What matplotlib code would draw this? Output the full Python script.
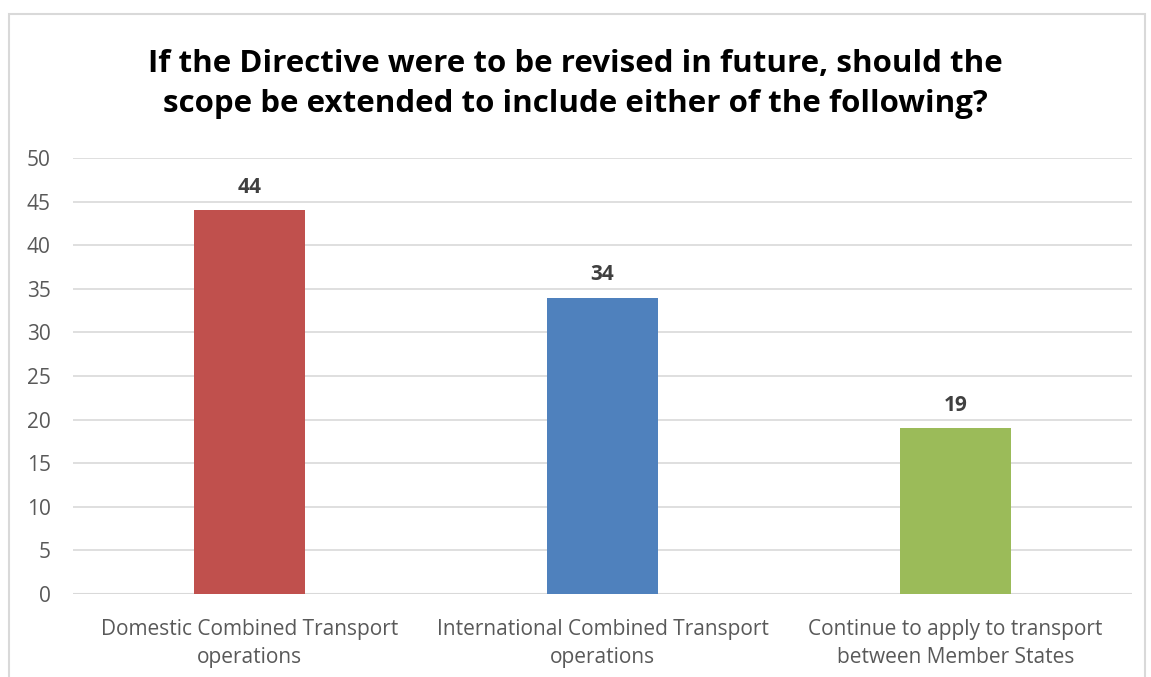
import matplotlib

matplotlib.use("Agg")

import matplotlib.pyplot as plt
from matplotlib.patches import Rectangle

categories = [
    "Domestic Combined Transport\noperations",
    "International Combined Transport\noperations",
    "Continue to apply to transport\nbetween Member States",
]
responses = [44, 34, 19]
bar_colors = ["#c0504d", "#4f81bd", "#9bbb59"]
y_ticks = list(range(0, 55, 5))

W, H = 1151, 677
plt.rcParams["font.family"] = ["Open Sans", "DejaVu Sans"]

fig = plt.figure(figsize=(W / 100, H / 100), dpi=100)
fig.patch.set_facecolor("white")

# light chart-area frame, open at the bottom edge
fig.patches.append(
    Rectangle((9 / W, -0.05), (1145 - 9) / W, 1.05 - 14 / H,
              transform=fig.transFigure, fill=False,
              edgecolor="#d9d9d9", linewidth=1.5)
)

left, right = 73 / W, 1132 / W
bottom, top = 1 - 594 / H, 1 - 158 / H
ax = fig.add_axes([left, bottom, right - left, top - bottom])

x = range(len(categories))
ax.bar(x, responses, width=0.315, color=bar_colors, zorder=3)
for xi, v in zip(x, responses):
    ax.text(xi, v + 1.4, str(v), ha="center", va="bottom",
            fontsize=15, fontweight="bold", color="#404040")

ax.set_xlim(-0.5, len(categories) - 0.5)
ax.set_ylim(0, 50)
ax.set_yticks(y_ticks)
ax.yaxis.grid(True, color="#d9d9d9", linewidth=1.2, zorder=0)
ax.tick_params(axis="y", length=0, pad=16, labelsize=15, labelcolor="#595959")
ax.tick_params(axis="x", length=0, pad=18, labelsize=15, labelcolor="#595959")
ax.set_xticks(list(x))
ax.set_xticklabels(categories, linespacing=1.45)
for spine in ax.spines.values():
    spine.set_visible(False)
ax.axhline(0, color="#d9d9d9", linewidth=1.5, zorder=2)

fig.text(0.5, 1 - 84 / H,
         "If the Directive were to be revised in future, should the\n"
         "scope be extended to include either of the following?",
         ha="center", va="center", fontsize=22.5, fontweight="bold",
         color="black", linespacing=1.45)

fig.savefig("out.png", dpi=100)
